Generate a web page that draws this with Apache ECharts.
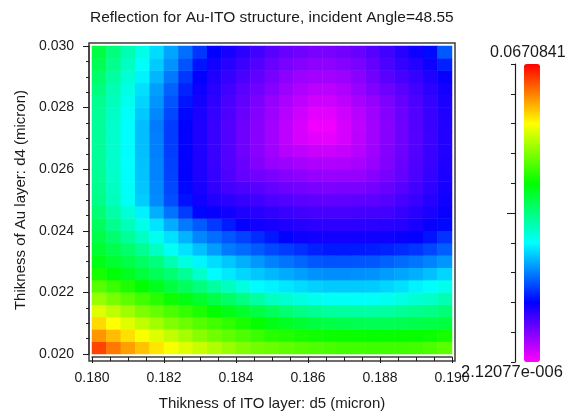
<!DOCTYPE html>
<html>
<head>
<meta charset="utf-8">
<script src="https://cdn.jsdelivr.net/npm/echarts@6/dist/echarts.min.js"></script>
<style>
  html, body { margin: 0; padding: 0; background: #ffffff; }
  #chart { width: 571px; height: 416px; }
</style>
</head>
<body>
<div id="chart"></div>
<script>
// ITO thickness d5 (micron) at the centre of each computed column
const d5Centers = [0.1802, 0.1806, 0.1810, 0.1814, 0.1818, 0.1822, 0.1826, 0.1830, 0.1834, 0.1838, 0.1842, 0.1846, 0.1850,
                   0.1854, 0.1858, 0.1862, 0.1866, 0.1870, 0.1874, 0.1878, 0.1882, 0.1886, 0.1890, 0.1894, 0.1898];
// Au thickness d4 (micron) at the centre of each computed row
const d4Centers = [0.0202, 0.0206, 0.0210, 0.0214, 0.0218, 0.0222, 0.0226, 0.0230, 0.0234, 0.0238, 0.0242, 0.0246, 0.0250,
                   0.0254, 0.0258, 0.0262, 0.0266, 0.0270, 0.0274, 0.0278, 0.0282, 0.0286, 0.0290, 0.0294, 0.0298];

const d5TickLabels = ['0.180', '0.182', '0.184', '0.186', '0.188', '0.190'];
const d4TickLabels = ['0.020', '0.022', '0.024', '0.026', '0.028', '0.030'];

// colour scale extremes (reflection)
const reflMin = 2.12077e-6;
const reflMax = 0.0670841;
const reflMinLabel = '2.12077e-006';
const reflMaxLabel = '0.0670841';

// reflection, one row per d4 value (bottom to top), running along d5
const row00 = [0.0635,0.0607,0.0587,0.0568,0.0550,0.0533,0.0520,0.0507,0.0495,0.0482,0.0470,0.0462,0.0458,0.0452,0.0448,0.0443,0.0440,0.0437,0.0436,0.0435,0.0435,0.0435,0.0437,0.0442,0.0450];
const row01 = [0.0592,0.0572,0.0553,0.0534,0.0519,0.0504,0.0489,0.0474,0.0462,0.0452,0.0443,0.0433,0.0423,0.0419,0.0414,0.0411,0.0408,0.0407,0.0406,0.0405,0.0405,0.0405,0.0405,0.0408,0.0413];
const row02 = [0.0556,0.0536,0.0520,0.0503,0.0487,0.0470,0.0460,0.0448,0.0437,0.0427,0.0416,0.0405,0.0391,0.0384,0.0376,0.0370,0.0365,0.0362,0.0360,0.0358,0.0359,0.0360,0.0362,0.0365,0.0370];
const row03 = [0.0520,0.0503,0.0485,0.0468,0.0455,0.0442,0.0429,0.0417,0.0403,0.0391,0.0379,0.0367,0.0355,0.0343,0.0333,0.0325,0.0320,0.0318,0.0317,0.0316,0.0318,0.0323,0.0329,0.0333,0.0340];
const row04 = [0.0482,0.0465,0.0451,0.0437,0.0423,0.0409,0.0394,0.0379,0.0364,0.0349,0.0334,0.0317,0.0301,0.0293,0.0285,0.0278,0.0274,0.0273,0.0272,0.0272,0.0276,0.0283,0.0291,0.0297,0.0309];
const row05 = [0.0448,0.0433,0.0418,0.0403,0.0387,0.0370,0.0354,0.0337,0.0319,0.0302,0.0285,0.0267,0.0262,0.0256,0.0250,0.0244,0.0241,0.0241,0.0241,0.0242,0.0247,0.0252,0.0262,0.0268,0.0278];
const row06 = [0.0414,0.0399,0.0385,0.0371,0.0357,0.0343,0.0323,0.0295,0.0267,0.0257,0.0247,0.0239,0.0231,0.0224,0.0218,0.0211,0.0209,0.0209,0.0210,0.0211,0.0216,0.0221,0.0227,0.0235,0.0247];
const row07 = [0.0391,0.0377,0.0364,0.0350,0.0336,0.0310,0.0284,0.0263,0.0251,0.0239,0.0227,0.0214,0.0202,0.0195,0.0188,0.0180,0.0177,0.0178,0.0179,0.0180,0.0185,0.0191,0.0196,0.0203,0.0213];
const row08 = [0.0377,0.0362,0.0346,0.0327,0.0301,0.0274,0.0254,0.0235,0.0217,0.0199,0.0191,0.0182,0.0172,0.0166,0.0159,0.0151,0.0147,0.0147,0.0148,0.0149,0.0152,0.0157,0.0162,0.0171,0.0183];
const row09 = [0.0365,0.0344,0.0322,0.0299,0.0276,0.0252,0.0229,0.0205,0.0192,0.0180,0.0169,0.0158,0.0146,0.0135,0.0128,0.0126,0.0125,0.0125,0.0126,0.0126,0.0127,0.0130,0.0132,0.0144,0.0161];
const row10 = [0.0354,0.0329,0.0305,0.0280,0.0254,0.0225,0.0199,0.0182,0.0164,0.0148,0.0132,0.0125,0.0123,0.0119,0.0114,0.0112,0.0111,0.0111,0.0112,0.0112,0.0113,0.0116,0.0122,0.0130,0.0138];
const row11 = [0.0342,0.0315,0.0289,0.0261,0.0227,0.0195,0.0166,0.0137,0.0130,0.0125,0.0119,0.0114,0.0109,0.0105,0.0101,0.0098,0.0097,0.0097,0.0099,0.0099,0.0100,0.0106,0.0113,0.0121,0.0130];
const row12 = [0.0331,0.0303,0.0274,0.0242,0.0208,0.0175,0.0143,0.0126,0.0117,0.0111,0.0106,0.0101,0.0094,0.0091,0.0087,0.0084,0.0083,0.0083,0.0085,0.0085,0.0089,0.0097,0.0104,0.0114,0.0126];
const row13 = [0.0328,0.0300,0.0272,0.0239,0.0206,0.0172,0.0138,0.0122,0.0109,0.0099,0.0093,0.0088,0.0082,0.0077,0.0073,0.0070,0.0068,0.0070,0.0070,0.0072,0.0079,0.0088,0.0099,0.0110,0.0123];
const row14 = [0.0324,0.0297,0.0270,0.0237,0.0203,0.0169,0.0134,0.0120,0.0107,0.0093,0.0082,0.0074,0.0070,0.0064,0.0060,0.0056,0.0054,0.0056,0.0056,0.0063,0.0071,0.0082,0.0094,0.0107,0.0121];
const row15 = [0.0322,0.0295,0.0269,0.0236,0.0203,0.0168,0.0133,0.0119,0.0105,0.0091,0.0079,0.0065,0.0056,0.0052,0.0047,0.0042,0.0041,0.0042,0.0046,0.0054,0.0066,0.0079,0.0092,0.0105,0.0119];
const row16 = [0.0322,0.0295,0.0268,0.0235,0.0201,0.0167,0.0133,0.0119,0.0105,0.0091,0.0076,0.0062,0.0050,0.0038,0.0033,0.0028,0.0027,0.0030,0.0038,0.0050,0.0064,0.0077,0.0091,0.0104,0.0117];
const row17 = [0.0322,0.0295,0.0268,0.0234,0.0201,0.0166,0.0133,0.0119,0.0105,0.0091,0.0076,0.0062,0.0049,0.0035,0.0021,0.0015,0.0013,0.0022,0.0036,0.0049,0.0062,0.0076,0.0089,0.0103,0.0117];
const row18 = [0.0322,0.0295,0.0268,0.0234,0.0199,0.0166,0.0134,0.0119,0.0105,0.0091,0.0077,0.0063,0.0049,0.0035,0.0021,0.0007,0.0007,0.0021,0.0035,0.0049,0.0062,0.0076,0.0090,0.0104,0.0117];
const row19 = [0.0323,0.0298,0.0272,0.0240,0.0206,0.0172,0.0138,0.0121,0.0107,0.0093,0.0079,0.0065,0.0052,0.0038,0.0025,0.0014,0.0015,0.0026,0.0038,0.0050,0.0064,0.0078,0.0091,0.0105,0.0118];
const row20 = [0.0328,0.0303,0.0277,0.0246,0.0212,0.0178,0.0144,0.0124,0.0110,0.0096,0.0083,0.0069,0.0056,0.0044,0.0033,0.0025,0.0026,0.0034,0.0046,0.0056,0.0068,0.0081,0.0094,0.0107,0.0121];
const row21 = [0.0336,0.0309,0.0282,0.0252,0.0218,0.0185,0.0152,0.0127,0.0113,0.0100,0.0087,0.0075,0.0064,0.0052,0.0042,0.0036,0.0036,0.0042,0.0054,0.0066,0.0076,0.0087,0.0099,0.0111,0.0124];
const row22 = [0.0347,0.0318,0.0291,0.0262,0.0230,0.0198,0.0163,0.0132,0.0118,0.0107,0.0095,0.0083,0.0071,0.0060,0.0052,0.0048,0.0048,0.0052,0.0062,0.0074,0.0087,0.0097,0.0107,0.0119,0.0130];
const row23 = [0.0358,0.0328,0.0300,0.0271,0.0241,0.0211,0.0178,0.0144,0.0125,0.0113,0.0103,0.0091,0.0079,0.0070,0.0063,0.0059,0.0059,0.0064,0.0070,0.0081,0.0094,0.0106,0.0116,0.0127,0.0151];
const row24 = [0.0368,0.0338,0.0309,0.0280,0.0250,0.0221,0.0192,0.0162,0.0134,0.0122,0.0111,0.0100,0.0088,0.0080,0.0074,0.0070,0.0070,0.0074,0.0080,0.0089,0.0100,0.0113,0.0127,0.0139,0.0181];

const reflRows = [row00, row01, row02, row03, row04, row05, row06, row07, row08, row09, row10, row11, row12,
                  row13, row14, row15, row16, row17, row18, row19, row20, row21, row22, row23, row24];

// rainbow map: low values magenta, high values red
const rainbow = ['#ff00ff', '#0000ff', '#00ffff', '#00ff00', '#ffff00', '#ff0000'];

const cells = [];
reflRows.forEach((row, j) => row.forEach((r, i) => cells.push([i, j, r])));

const font = '"Liberation Sans", Arial, sans-serif';
const ink = '#1a1a1a';

const chart = echarts.init(document.getElementById('chart'), null, { renderer: 'canvas' });
chart.setOption({
  animation: false,
  backgroundColor: '#ffffff',
  title: {
    text: 'Reflection for Au-ITO structure, incident Angle=48.55',
    left: 90, top: 10, padding: 0,
    textStyle: { fontFamily: font, fontSize: 15.5, fontWeight: 'normal', color: ink }
  },
  grid: [
    { left: 92, right: 119, top: 46, bottom: 58 },                 // image area
    { left: 89, right: 116, top: 43, bottom: 55, show: true,       // frame
      borderColor: '#3c3c3c', borderWidth: 1.5, backgroundColor: 'transparent' },
    { left: 515, top: 64, width: 9, height: 298 }                   // colour bar axis
  ],
  xAxis: [
    { type: 'category', gridIndex: 0, data: d5Centers.map(String), position: 'top', show: false },
    { type: 'value', gridIndex: 0, min: 0.18, max: 0.19, interval: 0.002, position: 'bottom', offset: 3,
      name: 'Thikness of ITO layer: d5 (micron)', nameLocation: 'middle', nameGap: 39,
      nameTextStyle: { fontFamily: font, fontSize: 15, color: ink },
      axisLine: { show: true, lineStyle: { color: '#3c3c3c', width: 1.5 } },
      axisTick: { show: true, length: 6, lineStyle: { color: ink } },
      minorTick: { show: true, splitNumber: 4, length: 4, lineStyle: { color: ink } },
      splitLine: { show: false },
      axisLabel: { fontFamily: font, fontSize: 14, color: ink, margin: 14,
                   formatter: (v, idx) => d5TickLabels[idx] } },
    { type: 'value', gridIndex: 1, show: false },
    { type: 'value', gridIndex: 2, show: false }
  ],
  yAxis: [
    { type: 'category', gridIndex: 0, data: d4Centers.map(String), position: 'right', show: false },
    { type: 'value', gridIndex: 0, min: 0.02, max: 0.03, interval: 0.002, position: 'left', offset: 3,
      name: 'Thikness of Au layer: d4 (micron)', nameLocation: 'middle', nameGap: 61,
      nameTextStyle: { fontFamily: font, fontSize: 15, color: ink },
      axisLine: { show: true, lineStyle: { color: '#3c3c3c', width: 1.5 } },
      axisTick: { show: true, length: 6, lineStyle: { color: ink } },
      minorTick: { show: true, splitNumber: 4, length: 3, lineStyle: { color: ink } },
      splitLine: { show: false },
      axisLabel: { fontFamily: font, fontSize: 14, color: ink, margin: 15,
                   formatter: (v, idx) => d4TickLabels[idx] } },
    { type: 'value', gridIndex: 1, show: false },
    { type: 'value', gridIndex: 2, min: 0, max: 10, interval: 1, position: 'left',
      axisLine: { show: true, lineStyle: { color: ink, width: 1.2 } },
      axisTick: { show: true, length: 4, lineStyle: { color: ink } },
      axisLabel: { show: false }, splitLine: { show: false } },
    { type: 'value', gridIndex: 2, min: 0, max: 10, position: 'left',
      axisLine: { show: false },
      axisTick: { show: true, length: 8, customValues: [5], lineStyle: { color: ink } },
      axisLabel: { show: false }, splitLine: { show: false } }
  ],
  visualMap: {
    type: 'continuous', min: reflMin, max: reflMax, seriesIndex: 0, dimension: 2,
    calculable: false, orient: 'vertical', left: 524, top: 64, padding: 0,
    itemWidth: 16, itemHeight: 298, inRange: { color: rainbow }, hoverLink: false
  },
  graphic: [
    { type: 'text', left: 490, top: 45, z: 10,
      style: { text: reflMaxLabel, font: '16px ' + font, fill: ink } },
    { type: 'text', left: 461, top: 364, z: 10,
      style: { text: reflMinLabel, font: '16.5px ' + font, fill: ink } }
  ],
  series: [{
    type: 'heatmap', xAxisIndex: 0, yAxisIndex: 0, data: cells,
    progressive: 0, itemStyle: { borderWidth: 0 },
    emphasis: { disabled: true }
  }]
});
</script>
</body>
</html>
